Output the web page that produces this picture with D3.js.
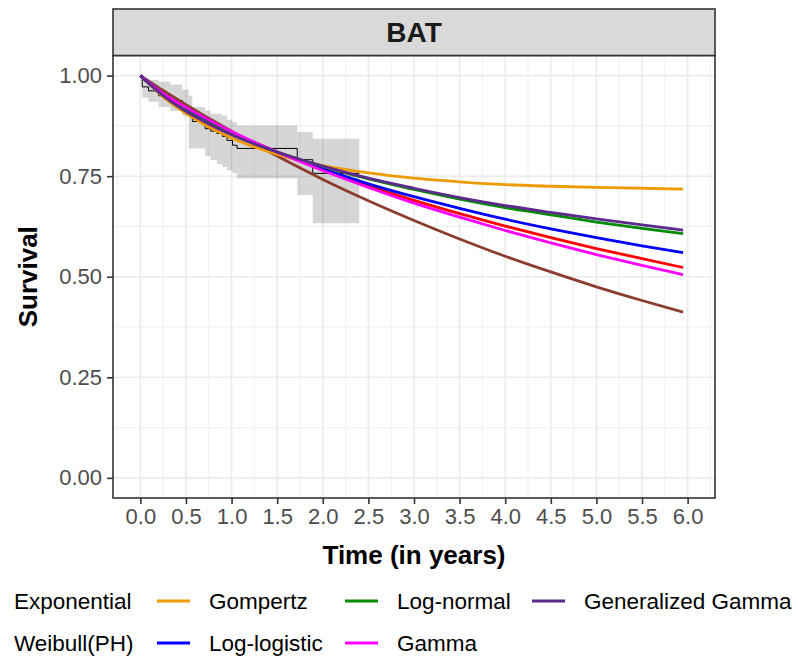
<!DOCTYPE html>
<html>
<head>
<meta charset="utf-8">
<script src="https://cdn.jsdelivr.net/npm/d3@7"></script>
<style>
  html, body { margin: 0; padding: 0; background: #ffffff; }
  svg { display: block; font-family: "Liberation Sans", Arial, sans-serif; }
</style>
</head>
<body>
<svg id="chart" width="798" height="657"></svg>
<script>
// ---- Data -----------------------------------------------------------------
const panelTitle = "BAT";

// Kaplan-Meier estimate with its confidence band
const kmTime  = [0, 0.02, 0.09, 0.20, 0.33, 0.46, 0.53, 0.57, 0.71, 0.77, 0.84, 0.90, 0.95, 1.01, 1.06, 1.72, 1.89, 2.40];
const kmSurv  = [1, 0.972, 0.962, 0.950, 0.938, 0.925, 0.900, 0.886, 0.868, 0.862, 0.856, 0.849, 0.839, 0.827, 0.819, 0.791, 0.757, 0.757];
const kmLower = [1, 0.945, 0.935, 0.922, 0.912, 0.900, 0.819, 0.819, 0.800, 0.790, 0.780, 0.773, 0.765, 0.757, 0.744, 0.703, 0.633, 0.633];
const kmUpper = [1, 0.995, 0.990, 0.985, 0.978, 0.965, 0.950, 0.922, 0.913, 0.905, 0.905, 0.900, 0.890, 0.884, 0.876, 0.860, 0.843, 0.843];

// Fitted parametric survival curves, sampled at these times
const fitTime = [0, 0.25, 0.5, 0.75, 1, 1.5, 2, 2.5, 3, 3.5, 4, 4.5, 5, 5.5, 5.95];
const survExponential = [1, 0.963, 0.928, 0.894, 0.862, 0.800, 0.742, 0.689, 0.640, 0.594, 0.551, 0.512, 0.475, 0.441, 0.412];
const survWeibull     = [1, 0.952, 0.917, 0.887, 0.859, 0.810, 0.766, 0.726, 0.690, 0.657, 0.626, 0.597, 0.570, 0.545, 0.523];
const survGompertz    = [1, 0.947, 0.906, 0.872, 0.845, 0.804, 0.776, 0.758, 0.745, 0.736, 0.729, 0.725, 0.722, 0.720, 0.718];
const survLogLogistic = [1, 0.954, 0.918, 0.887, 0.859, 0.810, 0.768, 0.731, 0.699, 0.670, 0.643, 0.619, 0.597, 0.577, 0.560];
const survLogNormal   = [1, 0.952, 0.913, 0.882, 0.855, 0.810, 0.774, 0.743, 0.717, 0.693, 0.672, 0.654, 0.636, 0.620, 0.607];
const survGamma       = [1, 0.955, 0.921, 0.890, 0.861, 0.810, 0.764, 0.722, 0.683, 0.648, 0.615, 0.584, 0.555, 0.528, 0.505];
const survGenGamma    = [1, 0.950, 0.911, 0.880, 0.853, 0.810, 0.775, 0.745, 0.720, 0.697, 0.677, 0.660, 0.644, 0.629, 0.616];

const modelNames  = ["Exponential", "Weibull(PH)", "Gompertz", "Log-logistic", "Log-normal", "Gamma", "Generalized Gamma"];
const modelColors = ["#8B3E2F", "#FF0000", "#EE9A00", "#0000FF", "#008B00", "#FF00FF", "#5B2A8C"];
const modelSurv   = [survExponential, survWeibull, survGompertz, survLogLogistic, survLogNormal, survGamma, survGenGamma];

// Legend reading order (filled column by column, two rows)
const legendOrder = ["Exponential", "Weibull(PH)", "Gompertz", "Log-logistic", "Log-normal", "Gamma", "Generalized Gamma"];

const xTicks = d3.range(0, 6.01, 0.5);
const yTicks = [0, 0.25, 0.5, 0.75, 1];
const xTitle = "Time (in years)";
const yTitle = "Survival";

// ---- Layout ---------------------------------------------------------------
const svg = d3.select("#chart");
const panel = { left: 113, right: 715, top: 55.5, bottom: 498 };
const strip = { top: 9, bottom: 55.5 };

const x = d3.scaleLinear().domain([-0.3, 6.3]).range([panel.left, panel.right]);
const y = d3.scaleLinear().domain([-0.05, 1.05]).range([panel.bottom, panel.top]);

// panel background
svg.append("rect")
  .attr("x", panel.left).attr("y", panel.top)
  .attr("width", panel.right - panel.left).attr("height", panel.bottom - panel.top)
  .attr("fill", "#ffffff");

// grid lines
const grid = svg.append("g");
const xMinor = d3.range(-0.25, 6.3, 0.5);
const yMinor = [0.125, 0.375, 0.625, 0.875];
grid.selectAll(".xminor").data(xMinor).join("line")
  .attr("x1", d => x(d)).attr("x2", d => x(d))
  .attr("y1", panel.top).attr("y2", panel.bottom)
  .attr("stroke", "#ebebeb").attr("stroke-width", 0.8);
grid.selectAll(".yminor").data(yMinor).join("line")
  .attr("y1", d => y(d)).attr("y2", d => y(d))
  .attr("x1", panel.left).attr("x2", panel.right)
  .attr("stroke", "#ebebeb").attr("stroke-width", 0.8);
grid.selectAll(".xmajor").data(xTicks).join("line")
  .attr("x1", d => x(d)).attr("x2", d => x(d))
  .attr("y1", panel.top).attr("y2", panel.bottom)
  .attr("stroke", "#ebebeb").attr("stroke-width", 1.6);
grid.selectAll(".ymajor").data(yTicks).join("line")
  .attr("y1", d => y(d)).attr("y2", d => y(d))
  .attr("x1", panel.left).attr("x2", panel.right)
  .attr("stroke", "#ebebeb").attr("stroke-width", 1.6);

// Kaplan-Meier band and step line
const kmData = kmTime.map((t, i) => ({ t, s: kmSurv[i], lo: kmLower[i], hi: kmUpper[i] }));
svg.append("path")
  .datum(kmData)
  .attr("d", d3.area().curve(d3.curveStepAfter)
    .x(d => x(d.t)).y0(d => y(d.lo)).y1(d => y(d.hi)))
  .attr("fill", "#000000").attr("fill-opacity", 0.16);
svg.append("path")
  .datum(kmData)
  .attr("d", d3.line().curve(d3.curveStepAfter).x(d => x(d.t)).y(d => y(d.s)))
  .attr("fill", "none").attr("stroke", "#000000").attr("stroke-width", 1);

// fitted curves
const line = d3.line().curve(d3.curveMonotoneX).x(d => x(d[0])).y(d => y(d[1]));
modelSurv.forEach((vals, i) => {
  svg.append("path")
    .datum(fitTime.map((t, j) => [t, vals[j]]))
    .attr("d", line)
    .attr("fill", "none")
    .attr("stroke", modelColors[i])
    .attr("stroke-width", 2.8)
    .attr("stroke-linejoin", "round");
});

// panel border
svg.append("rect")
  .attr("x", panel.left).attr("y", panel.top)
  .attr("width", panel.right - panel.left).attr("height", panel.bottom - panel.top)
  .attr("fill", "none").attr("stroke", "#333333").attr("stroke-width", 1.6);

// facet strip
svg.append("rect")
  .attr("x", panel.left).attr("y", strip.top)
  .attr("width", panel.right - panel.left).attr("height", strip.bottom - strip.top)
  .attr("fill", "#d9d9d9").attr("stroke", "#333333").attr("stroke-width", 1.6);
svg.append("text")
  .attr("x", (panel.left + panel.right) / 2).attr("y", 42)
  .attr("text-anchor", "middle")
  .attr("font-size", 28).attr("font-weight", "bold").attr("fill", "#1a1a1a")
  .text(panelTitle);

// axes
const xAxis = svg.append("g")
  .attr("transform", `translate(0,${panel.bottom})`)
  .call(d3.axisBottom(x).tickValues(xTicks).tickFormat(d3.format(".1f")).tickSize(6).tickPadding(4));
const yAxis = svg.append("g")
  .attr("transform", `translate(${panel.left},0)`)
  .call(d3.axisLeft(y).tickValues(yTicks).tickFormat(d3.format(".2f")).tickSize(6).tickPadding(5));
[xAxis, yAxis].forEach(g => {
  g.select(".domain").remove();
  g.selectAll(".tick line").attr("stroke", "#333333").attr("stroke-width", 1.6);
  g.selectAll(".tick text")
    .attr("fill", "#4d4d4d").attr("font-size", 22)
    .attr("font-family", "'Liberation Sans', Arial, sans-serif");
});

// axis titles
svg.append("text")
  .attr("x", (panel.left + panel.right) / 2).attr("y", 564)
  .attr("text-anchor", "middle")
  .attr("font-size", 26).attr("font-weight", "bold").attr("fill", "#000000")
  .text(xTitle);
svg.append("text")
  .attr("transform", `translate(37,${(panel.top + panel.bottom) / 2}) rotate(-90)`)
  .attr("text-anchor", "middle")
  .attr("font-size", 26).attr("font-weight", "bold").attr("fill", "#000000")
  .text(yTitle);

// legend: two rows, filled by column
const legendKeyX = [-38, 157, 345, 532];
const legendRowY = [601, 643];
const legend = svg.append("g");
legendOrder.forEach((name, i) => {
  const col = Math.floor(i / 2), row = i % 2;
  const kx = legendKeyX[col], ky = legendRowY[row];
  const color = modelColors[modelNames.indexOf(name)];
  legend.append("line")
    .attr("x1", kx).attr("x2", kx + 33)
    .attr("y1", ky).attr("y2", ky)
    .attr("stroke", color).attr("stroke-width", 2.8);
  legend.append("text")
    .attr("x", kx + 52).attr("y", ky + 8)
    .attr("font-size", 22.5).attr("fill", "#000000")
    .text(name);
});
</script>
</body>
</html>
